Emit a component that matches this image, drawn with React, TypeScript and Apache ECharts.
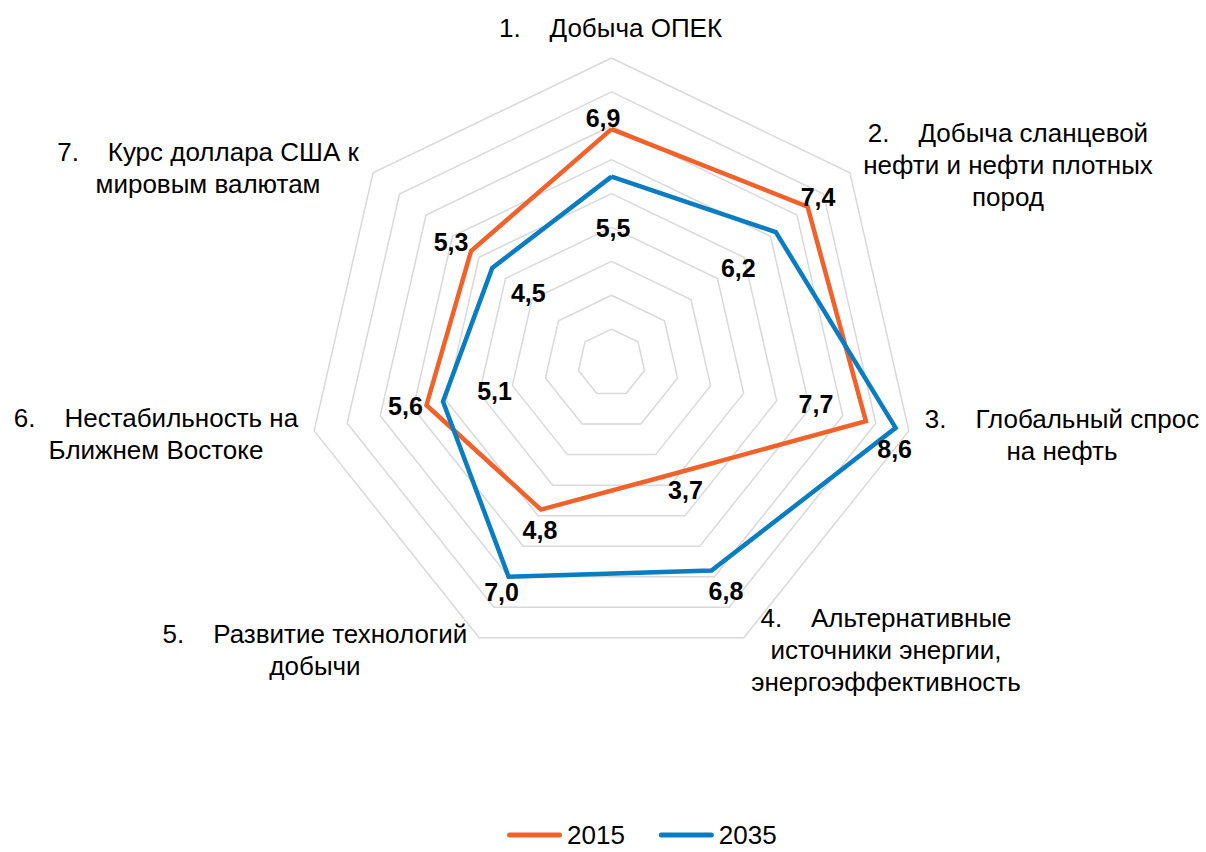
import React, { useEffect, useRef } from "react";
import * as echarts from "echarts";

// ---- data ----
const categories: string[] = [
  "1.\u00a0\u00a0\u00a0\u00a0Добыча ОПЕК",
  "2.\u00a0\u00a0\u00a0\u00a0Добыча сланцевой\nнефти и нефти плотных\nпород",
  "3.\u00a0\u00a0\u00a0\u00a0Глобальный спрос\nна нефть",
  "4.\u00a0\u00a0\u00a0\u00a0Альтернативные\nисточники энергии,\nэнергоэффективность",
  "5.\u00a0\u00a0\u00a0\u00a0Развитие технологий\nдобычи",
  "6.\u00a0\u00a0\u00a0\u00a0Нестабильность на\nБлижнем Востоке",
  "7.\u00a0\u00a0\u00a0\u00a0Курс доллара США к\nмировым валютам",
];
const seriesNames: string[] = ["2015", "2035"];
const values2015: number[] = [6.9, 7.4, 7.7, 3.7, 4.8, 5.6, 5.3];
const values2035: number[] = [5.5, 6.2, 8.6, 6.8, 7.0, 5.1, 4.5];
const axisMin = 0;
const axisMax = 9;
const splitCount = 9;

// ---- layout / style ----
const W = 1206;
const H = 852;
const CX = 611.5;
const CY = 363;
const RADIUS = 305;
const COLORS = ["#F0622A", "#0A7CC1"];
const FONT = '"Liberation Sans", Arial, sans-serif';

// category name positions (block centres)
const namePos: [number, number][] = [
  [610.5, 28],
  [1008, 165],
  [1062, 435],
  [886, 650],
  [315, 650],
  [156, 434],
  [208, 168],
];

// value-label offsets from the vertex, per series, per axis
const labelOffsets: [number, number][][] = [
  [[-8.5, -11], [10.5, -10], [-50, -17], [19.5, 14], [-1, 20], [-21, 1], [-20, -9]],
  [[1.5, 51], [-37.5, 36], [-1, 21], [14.5, 20], [-7, 15], [51.5, -10], [36, 25.5]],
];

// ECharts lays radar indicators out counter-clockwise; reorder so they run clockwise
const order = [0, 6, 5, 4, 3, 2, 1];

export default function App() {
  const ref = useRef<HTMLDivElement>(null);

  useEffect(() => {
    if (!ref.current) return;
    const chart = echarts.init(ref.current, undefined, { renderer: "svg" });
    const STEP = 360 / 7;

    const option: any = {
      animation: false,
      backgroundColor: "#ffffff",
      legend: {
        data: seriesNames,
        left: 502,
        top: 817,
        padding: 5,
        itemWidth: 55,
        itemHeight: 5,
        itemGap: 34,
        icon: "path://M2.5,0 H52.5 A2.5,2.5 0 0 1 52.5,5 H2.5 A2.5,2.5 0 0 1 2.5,0 Z",
        textStyle: { fontSize: 26, fontFamily: FONT, color: "#000", lineHeight: 24 },
      },
      radar: {
        center: [CX, CY],
        radius: RADIUS,
        startAngle: 90,
        shape: "polygon",
        splitNumber: splitCount,
        indicator: order.map((i) => ({ name: categories[i], min: axisMin, max: axisMax })),
        axisName: { show: false },
        axisLine: { show: false },
        axisTick: { show: false },
        axisLabel: { show: false },
        splitArea: { show: false },
        splitLine: { lineStyle: { color: "#D9D9D9", width: 1.5 } },
      },
      series: [
        {
          type: "radar",
          symbol: "circle",
          symbolSize: 2,
          data: [values2015, values2035].map((vals, si) => ({
            name: seriesNames[si],
            value: order.map((i) => vals[i]),
            itemStyle: { color: COLORS[si] },
            lineStyle: { color: COLORS[si], width: 4.5, join: "miter" },
          })),
          label: {
            show: true,
            position: "inside",
            color: "#000",
            fontWeight: "bold",
            fontSize: 25,
            fontFamily: FONT,
            formatter: (p: any) => Number(p.value).toFixed(1).replace(".", ","),
          },
          labelLayout: (p: any) => {
            const r = p.rect;
            const px = r.x + r.width / 2;
            const py = r.y + r.height / 2;
            const ang = (Math.atan2(CY - py, px - CX) * 180) / Math.PI;
            let k = Math.round((90 - ang) / STEP);
            k = ((k % 7) + 7) % 7;
            const off = labelOffsets[p.dataIndex][k];
            return { x: px + off[0], y: py + off[1], align: "center", verticalAlign: "middle" };
          },
        },
      ],
      graphic: categories.map((name, i) => ({
        type: "text",
        x: namePos[i][0],
        y: namePos[i][1],
        silent: true,
        style: {
          text: name,
          fill: "#000",
          fontSize: 26,
          fontFamily: FONT,
          lineHeight: 32,
          align: "center",
          verticalAlign: "middle",
        },
      })),
    };

    chart.setOption(option);
    return () => chart.dispose();
  }, []);

  return (
    <div
      ref={ref}
      style={{ position: "fixed", left: 0, top: 0, width: W, height: H, background: "#fff" }}
    />
  );
}
